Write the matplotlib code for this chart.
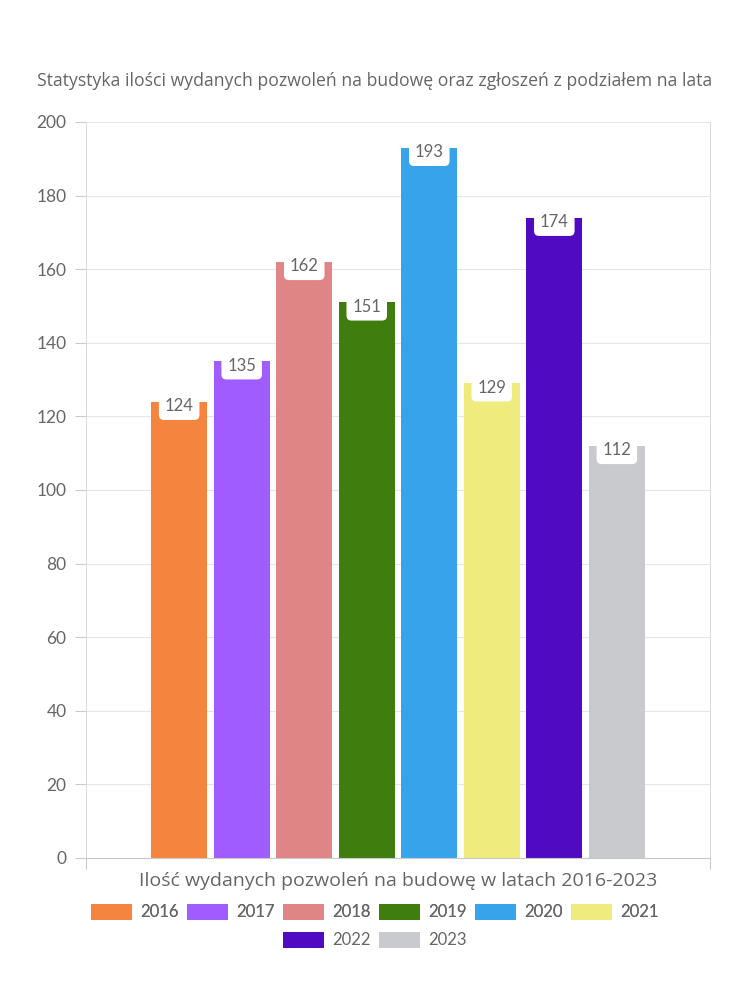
import matplotlib.pyplot as plt
from matplotlib.patches import Patch

years = ['2016', '2017', '2018', '2019', '2020', '2021', '2022', '2023']
values = [124, 135, 162, 151, 193, 129, 174, 112]
colors = ['#F5843F', '#A05CFF', '#E08585', '#3E7D0E', '#37A3EB', '#F0EB7D', '#500BC2', '#C9CACE']

title = 'Statystyka ilości wydanych pozwoleń na budowę oraz zgłoszeń z podziałem na lata'
xlabel = 'Ilość wydanych pozwoleń na budowę w latach 2016-2023'

plt.rcParams['font.family'] = ['Lato', 'DejaVu Sans']
txt = '#666666'

fig = plt.figure(figsize=(7.5, 10), dpi=100)
ax = fig.add_axes([86/750, 1 - 858/1000, 624/750, 736/1000])

n = len(years)
for i, (y, v, c) in enumerate(zip(years, values, colors)):
    x = i - (n - 1) / 2
    ax.bar(x, v, width=0.9, color=c, zorder=2)
    ax.text(x, v - 1.2, str(v), ha='center', va='center', fontsize=12, color=txt, zorder=3,
            bbox=dict(boxstyle='round,pad=0.35,rounding_size=0.3', fc='white', ec='none'))

ax.set_xlim(-4.99, 4.99)
ax.set_ylim(0, 200)
ax.set_yticks(range(0, 201, 20))
ax.set_xticks([-4.99, 4.99])
ax.set_xticklabels(['', ''])
ax.tick_params(axis='y', colors='#cccccc', labelcolor=txt, labelsize=12.5, length=8, width=0.8, pad=6)
ax.tick_params(axis='x', colors='#cccccc', length=8, width=0.8)
ax.grid(axis='y', color='#e6e6e6', linewidth=0.8, zorder=0)
for s in ['left', 'right', 'top']:
    ax.spines[s].set_color('#dddddd')
    ax.spines[s].set_linewidth(0.8)
ax.spines['top'].set_visible(False)
ax.spines['bottom'].set_color('#c8c8c8')
ax.spines['bottom'].set_linewidth(0.8)

fig.text(375/750, 1 - 81/1000, title, ha='center', va='center', fontsize=12.7, color=txt,
         family=['Open Sans', 'DejaVu Sans'])
fig.text(398/750, 1 - 881/1000, xlabel, ha='center', va='center', fontsize=14, color=txt,
         family=['Open Sans', 'DejaVu Sans'])

handles = [Patch(facecolor=c, edgecolor='none', label=y) for y, c in zip(years, colors)]
leg_kw = dict(frameon=False, fontsize=12, labelcolor=txt, handlelength=2.45, handleheight=1.1,
              handletextpad=0.5, columnspacing=0.5, borderaxespad=0)
leg1 = fig.legend(handles=handles[:6], ncol=6, loc='center', bbox_to_anchor=(375/750, 1 - 912/1000), **leg_kw)
fig.add_artist(leg1)
fig.legend(handles=handles[6:], ncol=2, loc='center', bbox_to_anchor=(375/750, 1 - 940/1000), **leg_kw)

fig.savefig('out.png', dpi=100)
